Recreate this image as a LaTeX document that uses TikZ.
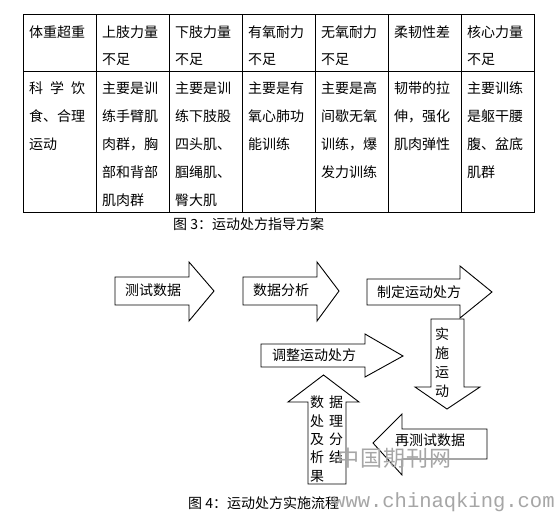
\documentclass[tikz,border=0pt]{standalone}
\usepackage{fontspec}
\newfontfamily\cjk{Noto Sans CJK SC}
\newfontfamily\wmono{Liberation Mono}
\begin{document}
\begin{tikzpicture}[x=1pt,y=-1pt,
  cell/.style={anchor=west,inner sep=0pt,font=\cjk\fontsize{14}{14}\selectfont},
  gridline/.style={line width=1pt,black},
  blockarrow/.style={draw=black,line width=0.9pt,fill=white,line join=miter},
  vtext/.style={inner sep=0pt,align=center,font=\cjk\fontsize{14}{19.3}\selectfont},
  wmark/.style={inner sep=0pt,anchor=west,text=black!35}]
\path[use as bounding box,fill=white] (0,0) rectangle (558,519);
% ---------- table ----------
\draw[gridline] (23,15) rectangle (534,213);
\draw[gridline] (23,72) -- (534,72);
\foreach \i in {1,...,6} \draw[gridline] (23+73*\i,15) -- (23+73*\i,213);
\foreach \c/\a/\b in {1/体重超重/{},2/上肢力量/不足,3/下肢力量/不足,4/有氧耐力/不足,5/无氧耐力/不足,6/柔韧性差/{},7/核心力量/不足}{
  \node[cell] (h\c a) at (23+73*\c-73+6,32) {\a};
  \node[cell] (h\c b) at (23+73*\c-73+6,60) {\b};
}
\foreach [count=\k] \t in {{\hbox to 56pt{科\hfill 学\hfill 饮}},食、合理,运动}
  \node[cell] (r1-\k) at (29,60+28*\k) {\t};
\foreach [count=\k] \t in {主要是训,练手臂肌,肉群，胸,部和背部,肌肉群}
  \node[cell] (r2-\k) at (102,60+28*\k) {\t};
\foreach [count=\k] \t in {主要是训,练下肢股,四头肌、,腘绳肌、,臀大肌}
  \node[cell] (r3-\k) at (175,60+28*\k) {\t};
\foreach [count=\k] \t in {主要是有,氧心肺功,能训练}
  \node[cell] (r4-\k) at (248,60+28*\k) {\t};
\foreach [count=\k] \t in {主要是高,间歇无氧,训练，爆,发力训练}
  \node[cell] (r5-\k) at (321,60+28*\k) {\t};
\foreach [count=\k] \t in {韧带的拉,伸，强化,肌肉弹性}
  \node[cell] (r6-\k) at (394,60+28*\k) {\t};
\foreach [count=\k] \t in {主要训练,是躯干腰,腹、盆底,肌群}
  \node[cell] (r7-\k) at (467,60+28*\k) {\t};
\node[cell] (cap3) at (173,224) {图 3：运动处方指导方案};
% ---------- flow ----------
\draw[blockarrow] (115,277) -- (189,277) -- (189,262) -- (214,291) -- (189,321) -- (189,305) -- (115,305) -- cycle;
\draw[blockarrow] (243,277) -- (317,277) -- (317,262) -- (339,291) -- (317,321) -- (317,305) -- (243,305) -- cycle;
\draw[blockarrow] (367,279) -- (460,279) -- (460,266) -- (492,292) -- (460,318) -- (460,305) -- (367,305) -- cycle;
\draw[blockarrow] (431,319) -- (464,319) -- (464,387) -- (480,387) -- (447,409) -- (415,387) -- (431,387) -- cycle;
\draw[blockarrow] (261,344) -- (365,344) -- (365,334) -- (403,356) -- (365,377) -- (365,367) -- (261,367) -- cycle;
\draw[blockarrow] (308,484) -- (308,402) -- (288,402) -- (323.5,375) -- (359,402) -- (346,402) -- (346,484) -- cycle;
\draw[blockarrow] (487,429) -- (402,429) -- (402,414) -- (373,443) -- (402,475) -- (402,459) -- (487,459) -- cycle;
\node[cell] (f1) at (125,290) {测试数据};
\node[cell] (f2) at (253,290) {数据分析};
\node[cell] (f3) at (377,292) {制定运动处方};
\node[vtext,anchor=north] (f4) at (442,327) {实\\施\\运\\动};
\node[cell] (f5) at (272,355) {调整运动处方};
\node[vtext,align=left,anchor=north west,font=\cjk\fontsize{14}{18.3}\selectfont] (f6) at (310,396) {数\hspace{5pt}据\\处\hspace{5pt}理\\及\hspace{5pt}分\\析\hspace{5pt}结\\果};
\node[cell] (f7) at (395,440) {再测试数据};
\node[cell] (cap4) at (188,503) {图 4：运动处方实施流程};
% ---------- watermark ----------
\node[wmark,font=\cjk\fontsize{22}{22}\selectfont] (wm1) at (337,458) {中\hspace{1pt}国\hspace{1pt}期\hspace{1pt}刊\hspace{1pt}网};
\node[wmark,font=\wmono\fontsize{20.5}{20.5}\selectfont] (wm2) at (333,502) {www.chinaqking.com};
\end{tikzpicture}
\end{document}
